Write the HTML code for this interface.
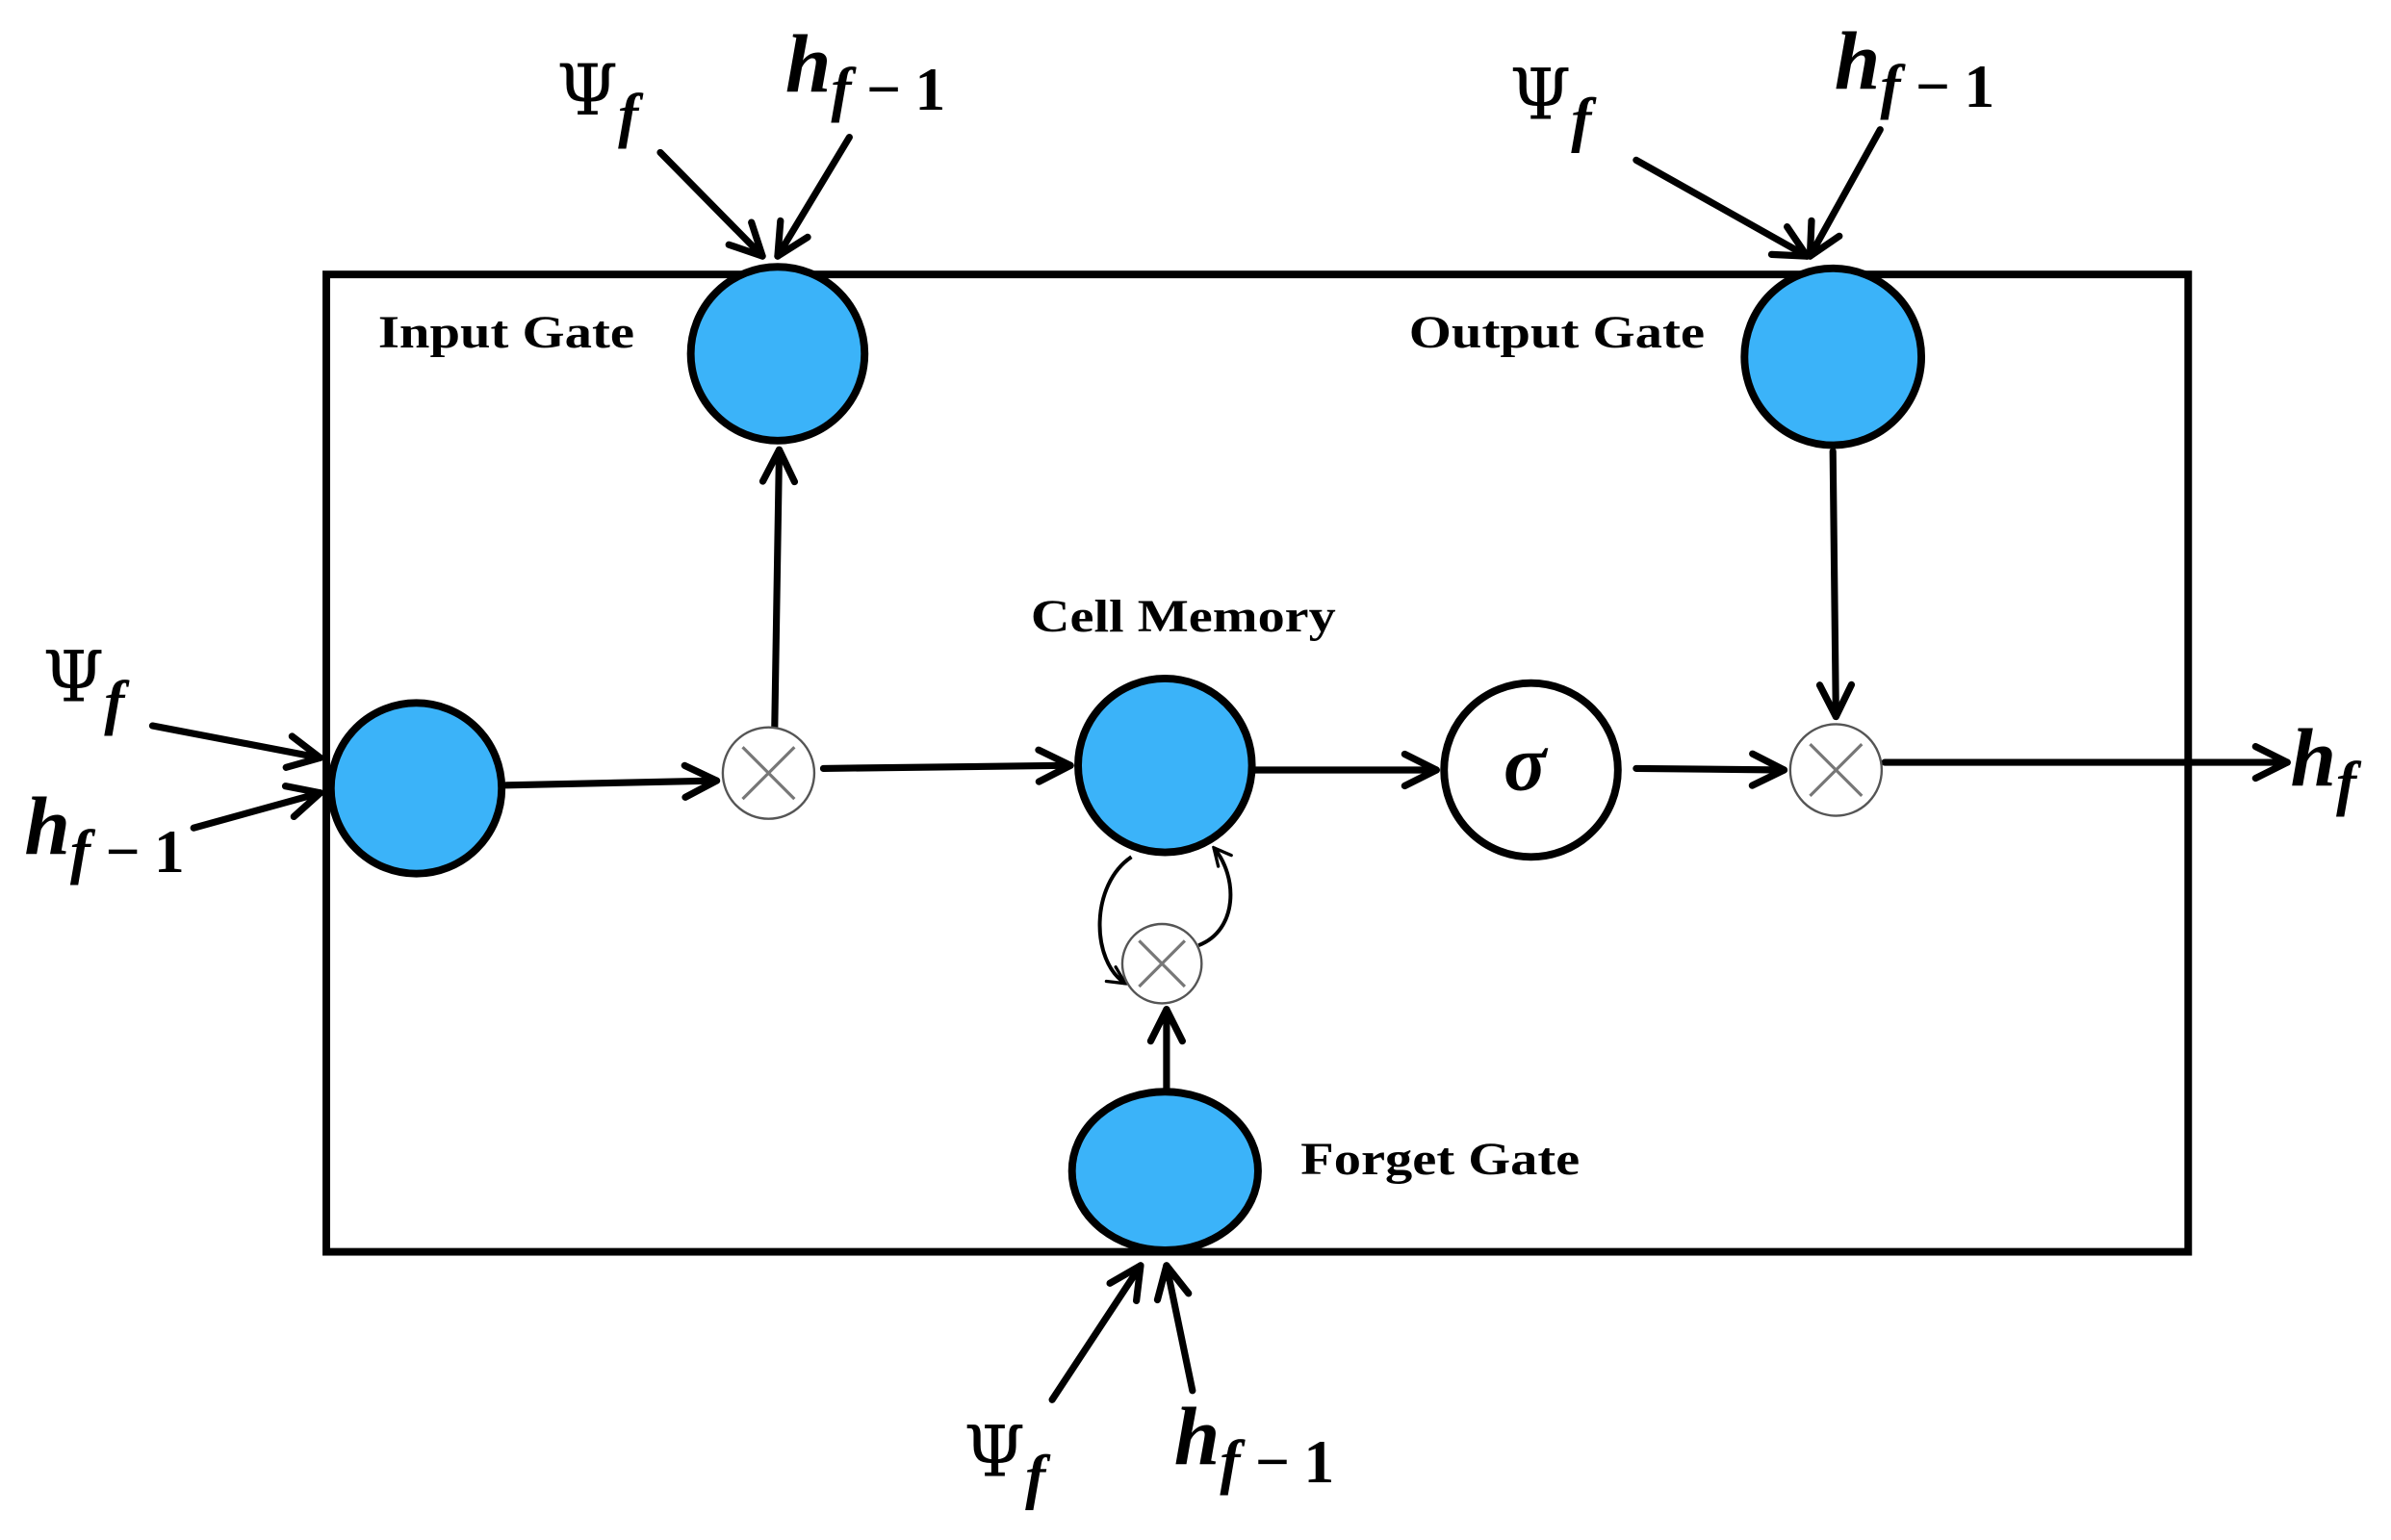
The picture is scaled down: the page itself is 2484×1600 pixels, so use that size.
<!DOCTYPE html>
<html><head><meta charset="utf-8"><style>
html,body{margin:0;padding:0;background:#fff;}
svg{display:block;}
.lbl{font-family:"Liberation Serif",serif;font-weight:bold;font-size:30px;}
.psi{font-family:"DejaVu Serif","Liberation Serif",serif;font-size:46px;}
.h{font-family:"Liberation Serif",serif;font-weight:bold;font-style:italic;font-size:54px;}
.sub{font-family:"Liberation Serif",serif;font-weight:bold;font-style:italic;font-size:40px;}
.up{font-style:normal;}
</style></head><body>
<svg width="2484" height="1600" viewBox="0 0 1568 1010" preserveAspectRatio="none" xmlns="http://www.w3.org/2000/svg">
<defs>
<marker id="ar" viewBox="0 0 20 20" refX="18" refY="10" markerWidth="26" markerHeight="26" orient="auto" markerUnits="userSpaceOnUse">
<path d="M2,2 L18,10 L2,18" fill="none" stroke="#000" stroke-width="3.5" stroke-linecap="round" stroke-linejoin="round"/>
</marker>
<marker id="as" viewBox="0 0 20 20" refX="18" refY="10" markerWidth="14" markerHeight="14" orient="auto" markerUnits="userSpaceOnUse">
<path d="M2,2 L18,10 L2,18" fill="none" stroke="#000" stroke-width="3" stroke-linecap="round"/>
</marker>
</defs>
<rect x="214" y="180" width="1221" height="641" fill="none" stroke="#000" stroke-width="5"/>
<g stroke="#000" stroke-width="4.5" fill="none" stroke-linecap="round" marker-end="url(#ar)">
<line x1="332" y1="515" x2="470" y2="512"/>
<line x1="508" y1="478" x2="511" y2="295"/>
<line x1="540" y1="504" x2="702" y2="502"/>
<line x1="822" y1="505" x2="942" y2="505"/>
<line x1="1073" y1="504" x2="1170" y2="505"/>
<line x1="1202" y1="296" x2="1204" y2="470"/>
<line x1="1236" y1="500" x2="1500" y2="500"/>
<line x1="765" y1="714" x2="765" y2="662"/>
<line x1="433" y1="100" x2="500" y2="168"/>
<line x1="557" y1="90" x2="510" y2="168"/>
<line x1="1073" y1="105" x2="1185" y2="168"/>
<line x1="1233" y1="85" x2="1187" y2="168"/>
<line x1="100" y1="476" x2="210" y2="497"/>
<line x1="127" y1="543" x2="210" y2="520"/>
<line x1="690" y1="918" x2="748" y2="830"/>
<line x1="782" y1="912" x2="765" y2="830"/>
</g>
<g stroke="#000" stroke-width="2.5" fill="none" marker-end="url(#as)">
<path d="M742,562 C715,580 715,630 738,645"/>
<path d="M786,620 C812,610 812,575 796,556"/>
</g>
<g fill="#3bb3f9" stroke="#000" stroke-width="5">
<circle cx="510" cy="232" r="57"/>
<circle cx="1202" cy="234" r="58"/>
<circle cx="273" cy="517" r="56"/>
<circle cx="764" cy="502" r="57"/>
<ellipse cx="764" cy="768" rx="61" ry="52"/>
</g>
<circle cx="1004" cy="505" r="57" fill="#fff" stroke="#000" stroke-width="5"/>
<text x="1000" y="518" text-anchor="middle" class="h" style="font-size:52px">σ</text>
<g stroke="#555" stroke-width="1.5" fill="#fff">
<circle cx="504" cy="507" r="30"/>
<circle cx="1204" cy="505" r="30"/>
<circle cx="762" cy="632" r="26"/>
</g>
<g stroke="#777" stroke-width="2">
<path d="M487,490 L521,524 M521,490 L487,524"/>
<path d="M1187,488 L1221,522 M1221,488 L1187,522"/>
<path d="M747,617 L777,647 M777,617 L747,647"/>
</g>
<text x="248" y="228" class="lbl" textLength="168" lengthAdjust="spacingAndGlyphs">Input Gate</text>
<text x="924" y="228" class="lbl" textLength="194" lengthAdjust="spacingAndGlyphs">Output Gate</text>
<text x="676" y="414" class="lbl" textLength="200" lengthAdjust="spacingAndGlyphs">Cell Memory</text>
<text x="853" y="770" class="lbl" textLength="183" lengthAdjust="spacingAndGlyphs">Forget Gate</text>
<g>
<text x="365" y="75" class="psi">Ψ<tspan class="sub" dy="14">f</tspan></text>
<text x="515" y="60" class="h">h<tspan class="sub" dy="12" textLength="75" lengthAdjust="spacing">f−<tspan class="up">1</tspan></tspan></text>
<text x="990" y="78" class="psi">Ψ<tspan class="sub" dy="14">f</tspan></text>
<text x="1203" y="58" class="h">h<tspan class="sub" dy="12" textLength="75" lengthAdjust="spacing">f−<tspan class="up">1</tspan></tspan></text>
<text x="28" y="460" class="psi">Ψ<tspan class="sub" dy="14">f</tspan></text>
<text x="16" y="560" class="h">h<tspan class="sub" dy="12" textLength="75" lengthAdjust="spacing">f−<tspan class="up">1</tspan></tspan></text>
<text x="632" y="968" class="psi">Ψ<tspan class="sub" dy="14">f</tspan></text>
<text x="770" y="960" class="h">h<tspan class="sub" dy="12" textLength="75" lengthAdjust="spacing">f−<tspan class="up">1</tspan></tspan></text>
<text x="1502" y="515" class="h">h<tspan class="sub" dy="12">f</tspan></text>
</g>
</svg>
</body></html>
